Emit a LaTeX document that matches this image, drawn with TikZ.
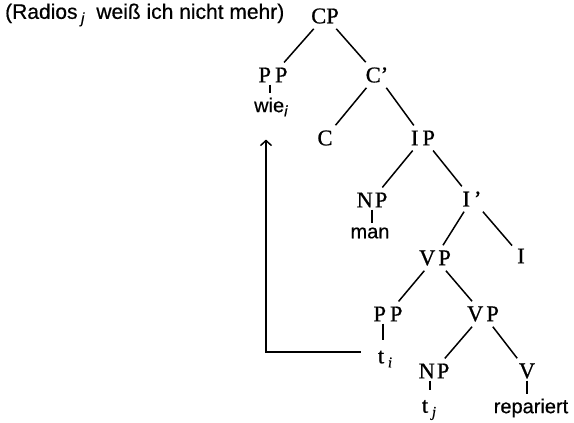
\documentclass[tikz,border=0pt]{standalone}
\usepackage{fontspec}
\setmainfont{Liberation Serif}[FakeBold=0.8]
\setsansfont{Liberation Sans}[FakeBold=0.6]
\usetikzlibrary{arrows.meta}
\newcommand{\subidx}[1]{\raisebox{-0.4ex}{\fontsize{15}{15}\selectfont\textit{#1}}}
\tikzset{
  cat/.style={font=\fontsize{22.5}{22.5}\selectfont, inner sep=5pt},
  word/.style={font=\sffamily\fontsize{20}{20}\selectfont, inner sep=3pt},
  trace/.style={font=\fontsize{22.5}{22.5}\selectfont, inner sep=3pt},
  edge/.style={line width=1.5pt},
  link/.style={edge, shorten <=-3pt, shorten >=1.5pt},
  tracelink/.style={edge, shorten <=-3pt, shorten >=7pt},
}
\begin{document}
\begin{tikzpicture}[x=1pt,y=-1pt]
  \useasboundingbox (0,0) rectangle (574,423);

  % heading outside the tree
  \node[word, anchor=west, inner sep=0pt, font=\sffamily\fontsize{21}{21}\selectfont]
    (head) at (5,15) {(Radios\,\subidx{j}\ \ weiß ich nicht mehr)};

  % categories
  \node[cat] (CP)  at (325,16)  {CP};
  \node[cat] (PP)  at (273,75)  {P\kern4pt P};
  \node[cat] (Cb)  at (377,75)  {C’};
  \node[cat] (C)   at (325,138) {C};
  \node[cat] (IP)  at (423,138) {I\kern4pt P};
  \node[cat] (NP)  at (372,200) {N\kern2pt P};
  \node[cat] (Ib)  at (472,199) {I\kern4pt’};
  \node[cat] (VP)  at (435,258) {V\kern3pt P};
  \node[cat] (I)   at (521,256) {I};
  \node[cat] (PPb) at (388,314) {P\kern4pt P};
  \node[cat] (VPb) at (483,314) {V\kern3pt P};
  \node[cat] (NPb) at (434,371) {N\kern2pt P};
  \node[cat] (V)   at (527,371) {V};

  % terminals
  \node[word]  (wie) at (271,107) {wie\subidx{i}};
  \node[word]  (man) at (370,233) {man};
  \node[trace] (ti)  at (385,359) {t\,\subidx{i}};
  \node[trace] (tj)  at (429,410) {t\,\subidx{j}};
  \node[word]  (rep) at (531,408) {repariert};

  % branches
  \draw[edge] (CP) -- (PP);
  \draw[edge] (CP) -- (Cb);
  \draw[edge] (Cb) -- (C);
  \draw[edge] (Cb) -- (IP);
  \draw[edge] (IP) -- (NP);
  \draw[edge] (IP) -- (Ib);
  \draw[edge] (Ib) -- (VP);
  \draw[edge] (Ib) -- (I);
  \draw[edge] (VP) -- (PPb);
  \draw[edge] (VP) -- (VPb);
  \draw[edge] (VPb) -- (NPb);
  \draw[edge] (VPb) -- (V);

  % unary links to terminals
  \draw[link]      ([xshift=-3pt]PP.south)  -- ([xshift=-3pt]PP.south |- wie.north);
  \draw[link]      (NP.south)               -- (NP.south |- man.north);
  \draw[tracelink] ([xshift=-5pt]PPb.south) -- ([xshift=-5pt]PPb.south |- ti.north);
  \draw[tracelink] ([xshift=-4pt]NPb.south) -- ([xshift=-4pt]NPb.south |- tj.north);
  \draw[link]      (V.south)                -- (V.south |- rep.north);

  % movement arrow from the trace to wie
  \draw[edge, -{Straight Barb[length=5pt,width=11pt]}, shorten >=20pt]
    ([xshift=-14pt,yshift=7pt]ti.west) -| ([xshift=-5pt]wie.south);
\end{tikzpicture}
\end{document}
